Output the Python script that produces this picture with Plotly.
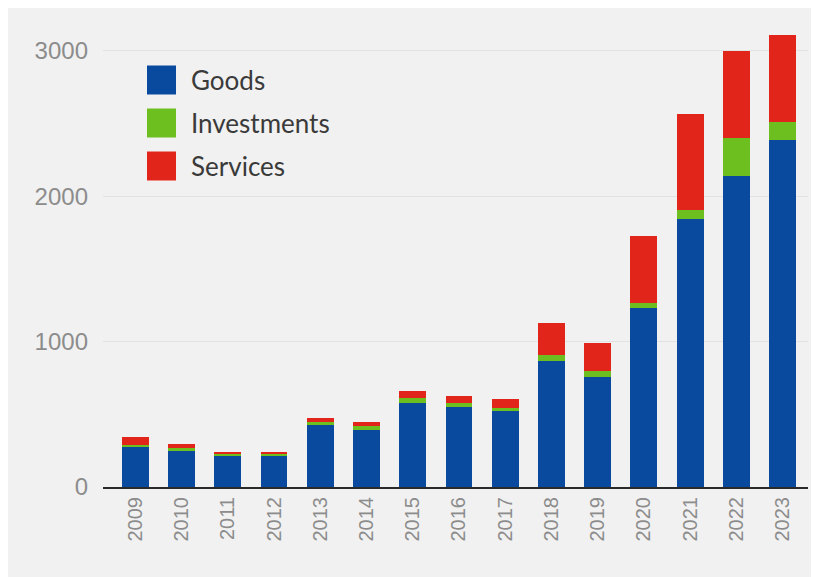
import plotly.graph_objects as go

years = [str(y) for y in range(2009, 2024)]
goods = [275, 250, 210, 210, 425, 390, 580, 550, 520, 870, 755, 1230, 1845, 2140, 2390]
investments = [15, 20, 20, 20, 25, 30, 30, 25, 25, 40, 40, 35, 60, 260, 120]
services = [55, 25, 10, 10, 25, 30, 50, 50, 60, 215, 195, 465, 660, 600, 600]

series_names = ["Goods", "Investments", "Services"]
series_colors = ["#0a4a9e", "#6cbf1f", "#e2251b"]
series_values = [goods, investments, services]

W, H = 807, 577
OFF = 8  # page body margin offset in the screenshot
L, R, T, B = 95, 7, 8, 98
BG = "#f1f1f1"

fig = go.Figure()
for name, color, vals in zip(series_names, series_colors, series_values):
    fig.add_trace(go.Bar(x=years, y=vals, name=name, marker=dict(color=color, line=dict(width=0)),
                         showlegend=False))

# custom legend (large square swatches), positioned in paper coordinates
pw, ph = W - L - R, H - T - B
def px_x(sx):
    return (sx - OFF - L) / pw
def px_y(sy):
    return (H - B - (sy - OFF)) / ph

legend_rows = [80, 123, 166]
for name, color, cy in zip(series_names, series_colors, legend_rows):
    fig.add_shape(type="rect", xref="paper", yref="paper",
                  x0=px_x(147), x1=px_x(176), y0=px_y(cy + 14.5), y1=px_y(cy - 14.5),
                  fillcolor=color, line=dict(width=0), layer="above")
    fig.add_annotation(xref="paper", yref="paper", x=px_x(189), y=px_y(cy),
                       text=name, showarrow=False, xanchor="left", yanchor="middle",
                       font=dict(family="Lato, Open Sans, sans-serif", size=26, color="#3a3a3a"))

tick_font = "Liberation Sans, Arial, sans-serif"
fig.update_layout(
    width=W, height=H,
    margin=dict(l=L, r=R, t=T, b=B),
    barmode="stack", bargap=0.42,
    paper_bgcolor=BG, plot_bgcolor=BG,
    font=dict(family=tick_font, color="#8a8a8a"),
    xaxis=dict(type="category", range=[-0.7, 14.55], tickangle=-90,
               tickfont=dict(family=tick_font, size=20, color="#8c8c8c"), showgrid=False,
               showline=True, linecolor="#2a2a2a", linewidth=2, ticks="", ticklen=0),
    yaxis=dict(range=[0, 3240], tickvals=[0, 1000, 2000, 3000], ticktext=["0", "1000", "2000", "3000"],
               tickfont=dict(family=tick_font, size=24, color="#8c8c8c"), showgrid=True, gridcolor="#e2e2e2",
               gridwidth=1, zeroline=False, ticks="", ticklabelstandoff=14),
)

fig.write_html("out.html")
